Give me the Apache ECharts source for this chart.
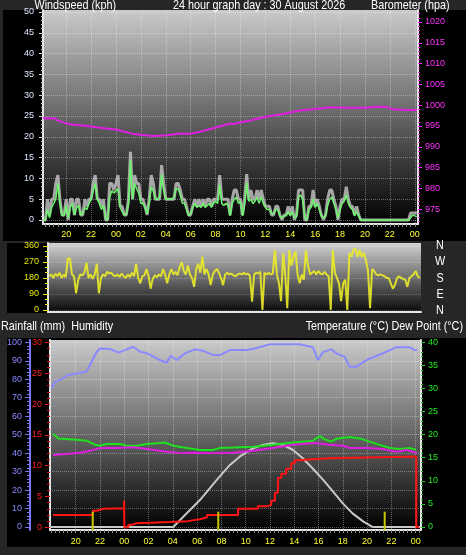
<!DOCTYPE html>
<html><head><meta charset="utf-8">
<script src="https://cdn.jsdelivr.net/npm/echarts@6/dist/echarts.min.js"></script>
<style>html,body{margin:0;padding:0;background:#262626;}#c{width:466px;height:555px;}</style>
</head><body><div id="c"></div>
<script>
// ---- sampling of the wind record (hours relative to 00:00 on 30 Aug) ----
const WIND_START_HOUR = -5.8333;
const WIND_STEP_HOUR = 1 / 6;

// ---- wind gust (kph) ----
const gustKph = [
 0,0,5,1.2,5,5,8.8,10.8,5,1.2,
 1.2,5,0,5,5,1.2,5,5,1.2,1.2,
 5,3.3,5,5,8.8,10.8,5,5,3.3,5,
 0,0,8.8,8.8,7.2,8.8,10.8,3.3,3.3,1.2,
 1.2,5,16.4,5,10.8,8.8,8.8,5,5,3.3,
 1.2,5,10.8,8.8,5,5,5,13.2,8.8,5,
 5,5,5,5,8.8,8.8,7.2,5,5,3.3,
 1.2,1.2,3.3,5,3.3,5,3.3,5,3.3,5,
 5,3.3,5,5,5,10.8,5,5,5,5,
 1.2,5,7.2,7.2,5,5,1.2,5,11,5,
 7.2,5,5,7.2,5,7.2,5,3.3,3.3,3.3,
 1.2,1.2,3.3,3.3,1.2,0,1.2,1.2,3.3,1.2,
 3.3,0,1.2,7.2,7.2,7.2,0,0,3.3,3.3,
 7.2,3.3,5,3.3,1.2,0,1.2,5,7.2,7.2,
 5,3.3,0,3.3,5,5,8,5,3.3,3.3,
 1.2,3.3,1.2,0,0,0,0,0,0,0,
 0,0,0,0,0,0,0,0,0,0,
 0,0,0,0,0,0,0,1.7,1.7,1.7,1.7
];
// ---- average wind (kph) ----
const avgKph = [
 0,0,2.5,0.5,3,4,5,8.8,4,1.2,
 1,3.5,0.5,3,4,1.2,3,3.5,1.2,1.5,
 3,2.5,4,5,7,8.8,5,4,2.5,3.5,
 0.5,0,5.5,7,6.5,7,7.5,3,2,1.2,
 1.5,3.5,14.4,5,8.8,7.5,6.5,4,4,3,
 1.5,4,8,7,5,5,5.5,11,7,5,
 5,5,5,5.5,7.5,7.5,6,4,4,2.5,
 1,1.5,3,4,3,3.5,3,4,3,3.5,
 4,3,4,4.5,4,8.5,4,3.5,4,3.5,
 1,4,5,5.5,4,4.5,1,4,9,4.5,
 5,4,4.5,5.5,4,5.5,4,3,2.5,2.5,
 1.5,1.5,2.5,2.5,1,0.5,1,1,2,1,
 2,0.5,1,5.5,6,5,0.5,0,2.5,3,
 5,3,4,2.5,1,0.5,1,3.5,5,5.5,
 4,2.5,0.5,2.5,4,4.5,6,4,3,2.5,
 1,2,1,0,0,0,0,0,0,0,
 0,0,0,0,0,0,0,0,0,0,
 0,0,0,0,0,0,0,0.5,1.2,1,0.8
];
// ---- wind direction (degrees) ----
const dirDeg = [
 190,200,180,205,190,210,180,200,185,290,
 290,200,190,94,170,200,195,210,266,180,
 200,175,200,260,94,180,200,190,215,205,
 210,195,190,200,185,205,190,180,200,185,
 210,190,260,180,150,190,195,230,190,120,
 175,195,185,200,190,230,200,150,200,230,
 200,215,195,240,270,220,200,250,200,180,
 130,230,260,210,300,200,230,200,140,200,
 220,230,210,180,140,200,210,200,205,195,
 190,200,205,200,210,200,205,190,47,200,
 210,205,215,0,210,200,210,200,205,337,
 200,150,50,320,200,10,337,250,300,330,
 200,150,200,170,337,250,200,210,220,200,
 220,205,200,215,200,190,0,337,210,180,
 150,50,150,170,0,320,300,340,345,300,
 337,300,320,280,220,10,230,220,200,195,
 200,195,190,180,180,150,120,140,180,190,
 180,175,170,130,180,190,200,220,190,180
];
// ---- barometer (hPa) ----
const baroTime = [-5.86,-4.9,-4.66,-3.86,-2.33,-1.29,0.08,1.37,2.97,4.1,5.14,5.94,6.75,8.11,9.16,9.4,10.76,12.05,13.41,14.78,15.82,17.19,18.8,20.08,20.88,21.69,22.25,23.29,24.18];
const baroHpa  = [996.85,996.8,996.3,995.5,995.0,994.6,994.1,993.1,992.6,992.8,993.2,993.1,993.6,994.7,995.6,995.5,996.3,997.2,997.9,998.7,999.0,999.5,999.4,999.4,999.6,999.6,999.0,998.85,998.85];
// ---- humidity (%) ----
const humTime = [-5.98,-5.71,-5.3,-4.61,-3.1,-2.83,-2.27,-2.0,-1.18,-0.49,0.06,0.74,1.29,1.85,2.94,3.49,3.82,4.32,5.0,5.82,6.51,7.33,7.88,8.71,10.05,10.6,11.98,14.45,15.54,15.96,16.37,17.05,17.46,18.15,18.57,19.11,19.52,20.07,20.76,21.58,22.4,23.51,23.92,24.11];
const humPct  = [75.1,78.7,79.6,82.3,84.1,87.7,94.9,96.7,96.4,94.4,95.8,97.6,94.9,94.2,90.4,88.9,92.7,90.4,94,96.2,95.4,93.1,93.1,95.8,95.8,96.4,98.9,98.9,97.3,90.4,94.7,96.2,94,92.2,86.8,86.8,88.6,90.8,92.6,94.9,97.3,97.3,95.8,95.8];
// ---- temperature (°C) ----
const tempTime = [-5.87,-5.44,-3.92,-3.1,-2.41,-2.0,-1.45,-0.35,0.2,1.02,1.85,2.94,3.35,4.04,5.14,6.24,7.33,7.88,8.95,10.6,12.25,13.9,15.54,16.1,16.5,17.05,17.46,18.57,19.39,20.21,21.04,21.86,22.68,23.51,24.05];
const tempC    = [20.2,19.2,18.9,18.7,17.8,17.6,18.0,18.0,17.6,17.6,18.0,18.2,18.3,17.6,17.1,16.7,16.7,17.1,17.2,17.4,17.8,18.3,18.7,19.7,19.0,18.5,19.1,19.5,19.2,18.5,17.8,17.1,16.9,17.1,16.7];
// ---- dew point (°C) ----
const dewTime = [-5.87,-4.74,-3.65,-2.55,-2.0,-0.63,0.74,1.85,3.49,4.59,5.68,7.33,8.95,10.6,12.25,13.9,15.54,16.92,18.01,18.57,19.93,21.31,22.4,23.23,24.11];
const dewC    = [15.6,15.8,16.1,16.7,17.1,17.1,17.3,16.9,16.3,16.0,16.1,16.0,16.1,16.5,17.1,17.8,18.2,17.8,17.6,17.1,17.1,16.9,16.3,16.7,16.1];
// ---- rainfall (mm, running total) ----
const rainTime = [-5.87,-2.6,-2.27,-1.73,-0.01,0.0,0.33,0.6,1.0,3.76,5.25,6.2,6.8,9.37,11.0,11.7,12.1,12.4,12.66,12.93,13.34,13.76,14.04,14.3,16.9,24.05,24.3];
const rainMm   = [2.0,2.7,3.0,3.1,4.3,0,0.4,0.65,0.85,1.0,1.3,1.6,2.0,3.0,3.4,3.6,4.3,5.6,8.0,8.7,9.5,10.4,10.9,11.2,11.5,0,0];
// ---- solar radiation (W/m²) ----
const solarTime = [-6.1,4.04,5.0,6.23,7.6,8.7,9.5,10.6,11.4,12.25,13.1,13.9,14.7,15.5,16.4,17.2,18.0,18.8,19.7,20.4,20.6,24.4];
const solarWm2  = [0,0,65,146,254,336,381,426,444,453,444,417,372,318,254,191,128,74,29,2,0,0];
// ---- event markers (hours) ----
const markerTimes = [-2.6, 7.74, 21.45];
const markerTop = 8.3;
// ---- tick labels ----
const hourTicks = [-4,-2,0,2,4,6,8,10,12,14,16,18,20,22,24];
const windTicks = [0,5,10,15,20,25,30,35,40,45,50];
const baroTicks = [975,980,985,990,995,1000,1005,1010,1015,1020];
const dirTicks = [0,90,180,270,360];
const humTicks = [0,10,20,30,40,50,60,70,80,90,100];
const rainTicks = [0,5,10,15,20,25,30];
const tempTicks = [0,5,10,15,20,25,30,35,40];

function range(a, b, s) { const r = []; for (let v = a; v <= b + 1e-9; v += s) r.push(Math.round(v * 1000) / 1000); return r; }
function pairs(xs, ys) { return xs.map((x, i) => [x, ys[i]]); }
function windPairs(vals) { return vals.map((v, i) => [WIND_START_HOUR + i * WIND_STEP_HOUR, v]); }
const hourFmt = v => { const h = ((Math.round(v) % 24) + 24) % 24; return (h < 10 ? '0' : '') + h; };
const plainFmt = v => String(v);

const FONT = "'Liberation Sans', Arial, sans-serif";
const dotted = { show: true, lineStyle: { color: 'rgba(255,255,255,0.35)', type: 'dotted', width: 1 } };
const border = { show: true, onZero: false, lineStyle: { color: '#e6e6e6', width: 2 } };
function grad(top, bottom) {
  return { type: 'linear', x: 0, y: 0, x2: 0, y2: 1, colorStops: [{ offset: 0, color: top }, { offset: 1, color: bottom }] };
}
function labelAxis(o) {
  return Object.assign({ type: 'value', splitLine: { show: false } }, o);
}
function minorAxis(grid, pos, min, max, ticks, color, len, offset) {
  return {
    type: 'value', gridIndex: grid, position: pos, offset: offset || 0, min, max,
    axisLine: { show: false, onZero: false }, axisLabel: { show: false }, splitLine: { show: false },
    axisTick: { show: true, customValues: ticks, length: len, lineStyle: { color, width: 1 } }
  };
}
function minorX(grid, min, max) {
  return {
    type: 'value', gridIndex: grid, position: 'bottom', min, max,
    axisLine: { show: false, onZero: false }, axisLabel: { show: false }, splitLine: { show: false },
    axisTick: { show: true, customValues: range(-6, 24.4, 1 / 3), length: 3, lineStyle: { color: '#8a8a8a', width: 1 } }
  };
}
function title(x, y, text, align) {
  return { type: 'text', z: 100, x, y, scaleX: 0.83,
    style: { x: 0, y: 0, text, fill: '#ffffff', fontSize: 13, fontFamily: FONT, verticalAlign: 'middle', align: align || 'left' } };
}

const chart = echarts.init(document.getElementById('c'), null, { renderer: 'canvas' });
const option = {
  animation: false,
  backgroundColor: '#262626',
  graphic: [
    { type: 'rect', z: -10, shape: { x: 3, y: 10, width: 463, height: 231 }, style: { fill: '#000' } },
    { type: 'rect', z: -10, shape: { x: 7, y: 243, width: 41, height: 70 }, style: { fill: '#000' } },
    { type: 'rect', z: -10, shape: { x: 7, y: 338, width: 459, height: 209 }, style: { fill: '#000' } },
    title(34.5, 5, 'Windspeed (kph)'),
    title(173, 5, '24 hour graph day : 30 August 2026'),
    title(371, 5, 'Barometer (hpa)'),
    title(1, 326, 'Rainfall (mm)  Humidity'),
    title(463, 326, 'Temperature (°C) Dew Point (°C)', 'right'),
    title(440, 245, 'N', 'center'),
    title(440, 261, 'W', 'center'),
    title(440, 278, 'S', 'center'),
    title(440, 294, 'E', 'center'),
    title(440, 310, 'N', 'center')
  ],
  grid: [
    { left: 43, top: 10, width: 375, height: 214, show: true, borderWidth: 0, backgroundColor: grad('#cacaca', '#000000') },
    { left: 48, top: 243, width: 373, height: 69, show: true, borderWidth: 0, backgroundColor: grad('#d2d2d2', '#0a0a0a') },
    { left: 50, top: 340, width: 371, height: 190, show: true, borderWidth: 0, backgroundColor: grad('#cacaca', '#000000') }
  ],
  xAxis: [
    { type: 'value', gridIndex: 0, min: -5.86, max: 24.26, axisLine: border,
      axisTick: { show: false, customValues: hourTicks },
      axisLabel: { customValues: hourTicks, formatter: hourFmt, color: '#ffff33', fontSize: 9, fontFamily: FONT, margin: 6 },
      splitLine: dotted },
    { type: 'value', gridIndex: 1, min: -5.93, max: 24.1, axisLine: border,
      axisTick: { show: false }, axisLabel: { show: false }, splitLine: { show: false } },
    { type: 'value', gridIndex: 2, min: -6.12, max: 24.44, axisLine: border,
      axisTick: { show: false, customValues: hourTicks },
      axisLabel: { customValues: hourTicks, formatter: hourFmt, color: '#ffff33', fontSize: 9, fontFamily: FONT, margin: 7 },
      splitLine: dotted },
    minorX(0, -5.86, 24.26),
    minorX(2, -6.12, 24.44)
  ],
  yAxis: [
    // 0 wind
    labelAxis({ gridIndex: 0, position: 'left', min: -0.96, max: 50.48, axisLine: border,
      axisTick: { show: true, customValues: windTicks, length: 4, lineStyle: { color: '#d8e0f0' } },
      axisLabel: { customValues: windTicks, formatter: plainFmt, color: '#dde6ff', fontSize: 9, fontFamily: FONT, margin: 9 },
      splitLine: dotted }),
    // 1 wind minor
    minorAxis(0, 'left', -0.96, 50.48, range(0, 50, 1), '#b8c0d0', 2),
    // 2 barometer
    labelAxis({ gridIndex: 0, position: 'right', min: 971.44, max: 1022.88, axisLine: border,
      axisTick: { show: true, customValues: baroTicks, length: 4, lineStyle: { color: '#ff22ff' } },
      axisLabel: { customValues: baroTicks, formatter: plainFmt, color: '#ff33ff', fontSize: 9, fontFamily: FONT, margin: 7 } }),
    // 3 baro minor
    minorAxis(0, 'right', 971.44, 1022.88, range(972, 1022, 1), '#ff22ff', 2),
    // 4 direction
    labelAxis({ gridIndex: 1, position: 'left', min: -11.25, max: 376.9, axisLine: border,
      axisTick: { show: true, customValues: dirTicks, length: 5, lineStyle: { color: '#e6e600' } },
      axisLabel: { customValues: dirTicks, formatter: plainFmt, color: '#e6e600', fontSize: 9, fontFamily: FONT, margin: 9 },
      splitLine: { show: true, lineStyle: { color: 'rgba(255,255,255,0.25)', type: 'dotted' } } }),
    // 5 direction minor
    minorAxis(1, 'left', -11.25, 376.9, range(0, 360, 30), '#e6e600', 3),
    // 6 humidity
    labelAxis({ gridIndex: 2, position: 'left', offset: 20, min: -1.62, max: 101.25,
      axisLine: { show: true, onZero: false, lineStyle: { color: '#7878f0', width: 2 } },
      axisTick: { show: true, customValues: humTicks, length: 5, lineStyle: { color: '#7878f0' } },
      axisLabel: { customValues: humTicks, formatter: plainFmt, color: '#8888ff', fontSize: 9, fontFamily: FONT, margin: 8 },
      splitLine: dotted }),
    // 7 humidity minor
    minorAxis(2, 'left', -1.62, 101.25, range(0, 100, 2), '#7878f0', 3, 20),
    // 8 rain
    labelAxis({ gridIndex: 2, position: 'left', min: -0.44, max: 30.42, axisLine: border,
      axisTick: { show: true, customValues: rainTicks, length: 5, lineStyle: { color: '#ff2020' } },
      axisLabel: { customValues: rainTicks, formatter: plainFmt, color: '#ff2020', fontSize: 9, fontFamily: FONT, margin: 8 } }),
    // 9 rain minor
    minorAxis(2, 'left', -0.44, 30.42, range(0, 30, 1), '#d01010', 3),
    // 10 temperature
    labelAxis({ gridIndex: 2, position: 'right', min: -0.69, max: 40.56, axisLine: border,
      axisTick: { show: true, customValues: tempTicks, length: 4, lineStyle: { color: '#22dd22' } },
      axisLabel: { customValues: tempTicks, formatter: plainFmt, color: '#22ee22', fontSize: 9, fontFamily: FONT, margin: 7 } }),
    // 11 temperature minor
    minorAxis(2, 'right', -0.69, 40.56, range(0, 40, 1), '#22bb22', 2),
    // 12 solar (hidden)
    { type: 'value', gridIndex: 2, min: -16.2, max: 1012.5, show: false }
  ],
  series: [
    { name: 'Gust', type: 'line', xAxisIndex: 0, yAxisIndex: 0, data: windPairs(gustKph), showSymbol: false, z: 2,
      lineStyle: { color: 'rgba(200,200,200,0.8)', width: 3 } },
    { name: 'Average', type: 'line', xAxisIndex: 0, yAxisIndex: 0, data: windPairs(avgKph), showSymbol: false, z: 3,
      lineStyle: { color: '#6cf56c', width: 1.5 } },
    { name: 'Barometer', type: 'line', xAxisIndex: 0, yAxisIndex: 2, data: pairs(baroTime, baroHpa), showSymbol: false, z: 3,
      lineStyle: { color: '#e21ee2', width: 2 } },
    { name: 'Direction', type: 'line', xAxisIndex: 1, yAxisIndex: 4, data: windPairs(dirDeg), showSymbol: false, z: 3,
      lineStyle: { color: 'rgba(235,235,40,0.9)', width: 2 } },
    { name: 'Humidity', type: 'line', xAxisIndex: 2, yAxisIndex: 6, data: pairs(humTime, humPct), showSymbol: false, z: 3,
      lineStyle: { color: '#8a8aff', width: 2 } },
    { name: 'Solar', type: 'line', xAxisIndex: 2, yAxisIndex: 12, data: pairs(solarTime, solarWm2), showSymbol: false, z: 3,
      lineStyle: { color: '#c8c8c8', width: 2 } },
    { name: 'Temperature', type: 'line', xAxisIndex: 2, yAxisIndex: 10, data: pairs(tempTime, tempC), showSymbol: false, z: 4,
      lineStyle: { color: '#1ee01e', width: 2 } },
    { name: 'Dew Point', type: 'line', xAxisIndex: 2, yAxisIndex: 10, data: pairs(dewTime, dewC), showSymbol: false, z: 4,
      lineStyle: { color: '#e01ee0', width: 2 } },
    { name: 'Rain', type: 'line', xAxisIndex: 2, yAxisIndex: 8, data: pairs(rainTime, rainMm), showSymbol: false, z: 5, step: 'end',
      lineStyle: { color: '#ff1414', width: 2 } }
  ].concat(markerTimes.map(t => ({
    type: 'line', xAxisIndex: 2, yAxisIndex: 6, data: [[t, -1.62], [t, markerTop]], showSymbol: false, z: 6,
    lineStyle: { color: '#c8c800', width: 2 }
  })))
};
chart.setOption(option);
</script>
</body></html>
